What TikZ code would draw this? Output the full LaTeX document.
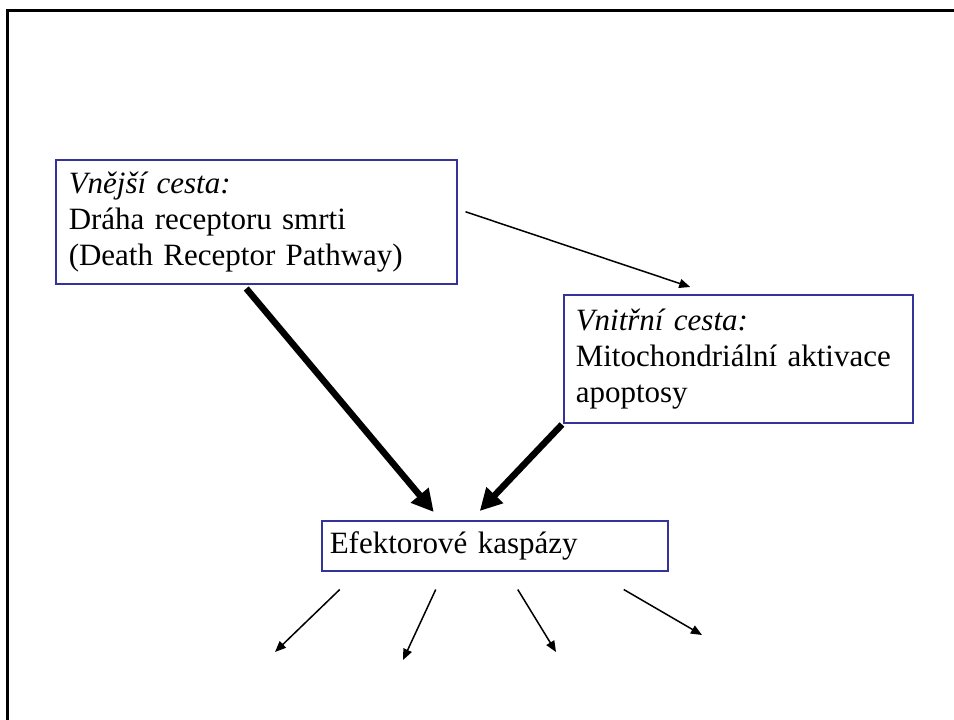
\documentclass[tikz,border=0pt]{standalone}
\usepackage{fontspec}
\setmainfont{Liberation Serif}
\usetikzlibrary{arrows.meta}
\definecolor{boxblue}{RGB}{51,51,153}
\tikzset{
  pathbox/.style={draw=boxblue, line width=1.5pt, anchor=north west, align=left,
    inner xsep=13pt, inner ysep=4pt, font=\fontsize{31}{36}\selectfont},
  thinarrow/.style={line width=1.5pt, -{Triangle[length=11pt,width=9pt]}},
  thickarrow/.style={line width=6.5pt, -{Triangle[length=22pt,width=22pt]}}
}
\begin{document}
\begin{tikzpicture}[x=1pt,y=-1pt]
  \useasboundingbox (0,0) rectangle (954,720);
  % frame
  \draw[line width=3pt] (7,720) -- (7,10.5) -- (954,10.5);
  % boxes
  \node[pathbox, text width=375, minimum height=124] (ext) at (55,159)
    {\textit{Vnější cesta:}\\Dráha receptoru smrti\\(Death Receptor Pathway)};
  \node[pathbox, text width=325, minimum height=128, inner xsep=12pt] (int) at (563,294)
    {\textit{Vnitřní cesta:}\\Mitochondriální aktivace\\apoptosy};
  \node[pathbox, text width=330, minimum height=50, inner xsep=8pt] (eff) at (321,520)
    {Efektorové kaspázy};
  % arrows between boxes
  \draw[thinarrow] ([shift={(8,-10)}]ext.east) -- ([shift={(-48,-7)}]int.north);
  \draw[thickarrow] ([shift={(-10,4)}]ext.south) -- ([shift={(-61,-8)}]eff.north);
  \draw[thickarrow] ([shift={(-1,1)}]int.south west) -- ([shift={(-15,-9)}]eff.north);
  % effects
  \coordinate (t1) at (275,652);
  \coordinate (t2) at (403,660);
  \coordinate (t3) at (556,652);
  \coordinate (t4) at (702,635);
  \draw[thinarrow] ([shift={(-155,18)}]eff.south) -- (t1);
  \draw[thinarrow] ([shift={(-59,18)}]eff.south) -- (t2);
  \draw[thinarrow] ([shift={(23,18)}]eff.south) -- (t3);
  \draw[thinarrow] ([shift={(129,18)}]eff.south) -- (t4);
\end{tikzpicture}
\end{document}
